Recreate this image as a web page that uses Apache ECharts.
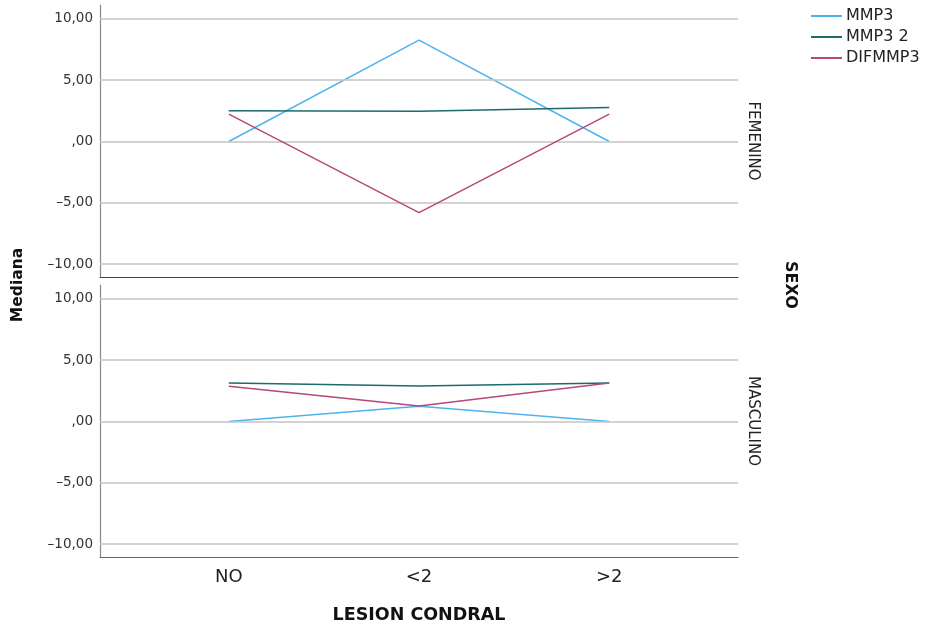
<!DOCTYPE html>
<html>
<head>
<meta charset="utf-8">
<script src="https://cdn.jsdelivr.net/npm/echarts@6/dist/echarts.min.js"></script>
<style>
  html, body { margin: 0; padding: 0; background: #fff; }
  #chart { width: 926px; height: 632px; }
</style>
</head>
<body>
<div id="chart"></div>
<script>
// categories and panel names
let categories = ['NO', '<2', '>2'];
let panels = ['FEMENINO', 'MASCULINO'];
let seriesNames = ['MMP3', 'MMP3 2', 'DIFMMP3'];
let yTicks = [-10, -5, 0, 5, 10];

// medians, one array per series and panel
let fem_mmp3 = [0, 8.27, 0];
let fem_mmp3_2 = [2.51, 2.46, 2.78];
let fem_difmmp3 = [2.24, -5.81, 2.24];
let masc_mmp3 = [0, 1.24, 0];
let masc_mmp3_2 = [3.14, 2.9, 3.14];
let masc_difmmp3 = [2.87, 1.26, 3.14];

let colors = ['#4db3ee', '#1d6b6c', '#b8477a'];
let font = '"DejaVu Sans", "Liberation Sans", sans-serif';

function fmt(v) {
    // spanish style: ,00 for zero
    if (v === 0) return ',00';
    let s = Math.abs(v).toFixed(2).replace('.', ',');
    return (v < 0 ? '\u2013' : '') + s;
}

function toPoints(arr) {
    return arr.map(function (v, i) { return [i, v]; });
}

let chart = echarts.init(document.getElementById('chart'), null, { renderer: 'canvas' });

let grids = [
    { left: 100, top: 5, width: 638, height: 272 },
    { left: 100, top: 285, width: 638, height: 272 }
];

let xAxes = grids.map(function (g, k) {
    return {
        type: 'value',
        gridIndex: k,
        min: -0.677,
        max: 2.677,
        axisLine: { show: true, onZero: false, lineStyle: { color: k === 0 ? '#444' : '#666', width: 1.2 } },
        axisTick: { show: false },
        splitLine: { show: false },
        axisLabel: {
            show: k === 1,
            customValues: [0, 1, 2],
            formatter: function (v) { return categories[Math.round(v)]; },
            fontFamily: font,
            fontSize: 18,
            color: '#222',
            margin: 11
        }
    };
});

let yAxes = grids.map(function (g, k) {
    return {
        type: 'value',
        gridIndex: k,
        min: -11.06,
        max: 11.14,
        axisLine: { show: true, onZero: false, lineStyle: { color: '#888', width: 1.2 } },
        axisTick: { show: false, customValues: yTicks },
        splitLine: { show: false },
        axisLabel: {
            customValues: yTicks,
            formatter: fmt,
            fontFamily: font,
            fontSize: 13.5,
            color: '#333',
            margin: 7
        }
    };
});

// grid lines drawn as markLines at the tick values
function gridLines() {
    return {
        silent: true,
        symbol: 'none',
        animation: false,
        label: { show: false },
        lineStyle: { color: '#c4c4c4', type: 'solid', width: 1.5 },
        data: yTicks.map(function (t) { return { yAxis: t }; })
    };
}

let panelData = [
    [fem_mmp3, fem_mmp3_2, fem_difmmp3],
    [masc_mmp3, masc_mmp3_2, masc_difmmp3]
];

let series = [];
panelData.forEach(function (rows, k) {
    rows.forEach(function (vals, j) {
        let s = {
            name: seriesNames[j],
            type: 'line',
            xAxisIndex: k,
            yAxisIndex: k,
            data: toPoints(vals),
            symbol: 'none',
            lineStyle: { color: colors[j], width: 1.5 },
            itemStyle: { color: colors[j] },
            z: 3 + j
        };
        if (j === 0) s.markLine = gridLines();
        series.push(s);
    });
});

let option = {
    animation: false,
    color: colors,
    grid: grids,
    xAxis: xAxes,
    yAxis: yAxes,
    legend: {
        orient: 'vertical',
        left: 811,
        top: 8,
        padding: 0,
        itemWidth: 31,
        itemHeight: 2,
        itemGap: 5,
        icon: 'rect',
        data: seriesNames,
        textStyle: { fontFamily: font, fontSize: 16, lineHeight: 16, color: '#222', padding: [0, 0, 0, -1] }
    },
    graphic: [
        {
            type: 'text', x: 753, y: 141, rotation: -Math.PI / 2,
            style: { text: panels[0], font: '15px ' + font, fill: '#222', align: 'center', verticalAlign: 'middle' }
        },
        {
            type: 'text', x: 753, y: 421, rotation: -Math.PI / 2,
            style: { text: panels[1], font: '15px ' + font, fill: '#222', align: 'center', verticalAlign: 'middle' }
        },
        {
            type: 'text', x: 790, y: 285, rotation: -Math.PI / 2,
            style: { text: 'SEXO', font: 'bold 16px ' + font, fill: '#111', align: 'center', verticalAlign: 'middle' }
        },
        {
            type: 'text', x: 18, y: 285, rotation: Math.PI / 2,
            style: { text: 'Mediana', font: 'bold 15.5px ' + font, fill: '#111', align: 'center', verticalAlign: 'middle' }
        },
        {
            type: 'text', x: 419, y: 615,
            style: { text: 'LESION CONDRAL', font: 'bold 17.5px ' + font, fill: '#111', align: 'center', verticalAlign: 'middle' }
        }
    ],
    series: series
};

chart.setOption(option);
</script>
</body>
</html>
